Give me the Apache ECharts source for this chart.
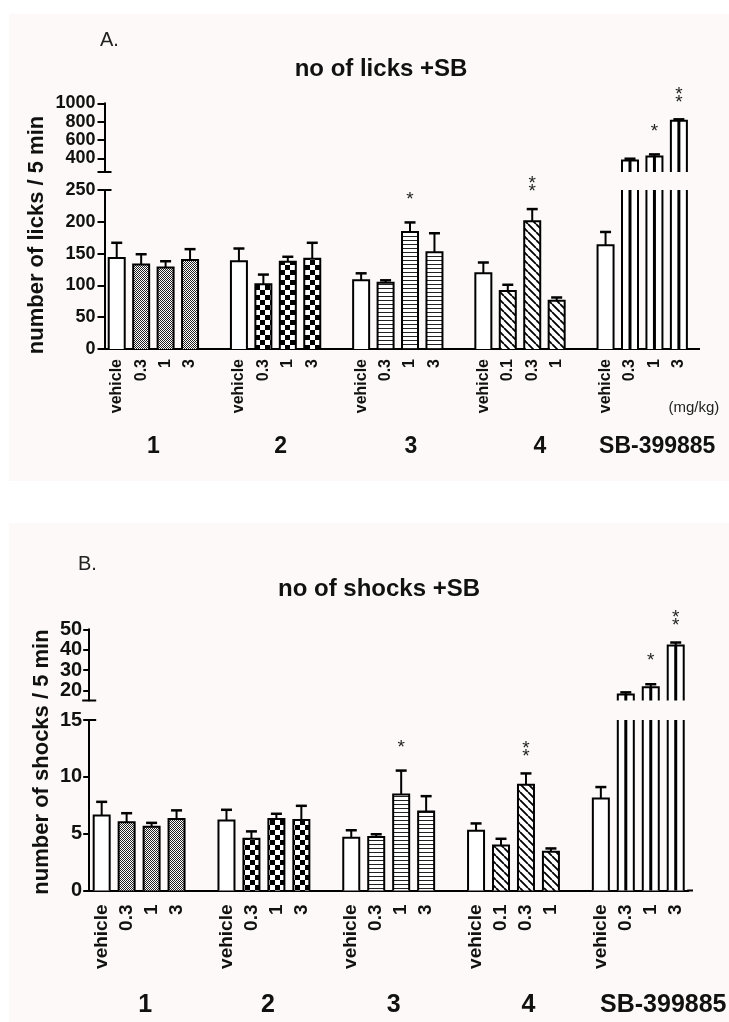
<!DOCTYPE html>
<html><head><meta charset="utf-8">
<script src="https://cdn.jsdelivr.net/npm/echarts@6/dist/echarts.min.js"></script>
<style>html,body{margin:0;padding:0;background:#fff;}#c{width:729px;height:1022px;}</style>
</head><body><div id="c"></div>
<script>
// ---------------- DATA ----------------
const categories = ['vehicle','0.3','1','3','',
                    'vehicle','0.3','1','3','',
                    'vehicle','0.3','1','3','',
                    'vehicle','0.1','0.3','1','',
                    'vehicle','0.3','1','3'];
const groupNames = ['1','2','3','4','SB-399885'];

const licksMean = [143,133,128,140,null, 138,102,137,142,null, 108,104,184,152,null, 119,91,201,76,null, 163,375,420,810];
const licksErr  = [24,16,10,17,null, 20,15,8,25,null, 11,4,15,30,null, 17,10,19,5,null, 21,20,22,15];
const licksSig  = [null,null,null,null,null, null,null,null,null,null, null,null,'*',null,null, null,null,'**',null,null, null,null,'*','**'];

const shocksMean = [6.6,6.0,5.6,6.3,null, 6.15,4.55,6.3,6.2,null, 4.65,4.7,8.45,6.95,null, 5.25,3.95,9.3,3.4,null, 8.1,18,21.5,42];
const shocksErr  = [1.2,0.8,0.35,0.75,null, 0.95,0.65,0.45,1.25,null, 0.65,0.25,2.1,1.35,null, 0.65,0.6,1.0,0.3,null, 1.0,1.0,1.5,1.5];
const shocksSig  = [null,null,null,null,null, null,null,null,null,null, null,null,'*',null,null, null,null,'**',null,null, null,null,'*','**'];

const licksLowerTicks = [0,50,100,150,200,250];
const licksUpperTicks = [400,600,800,1000];
const shocksLowerTicks = [0,5,10,15];
const shocksUpperTicks = [20,30,40,50];

// ---------------- STYLE / LAYOUT ----------------
const FONT = "'Liberation Sans', Arial, sans-serif";
const INK = '#111';
const patternByGroup = ['fine','checker','hlines','diag','vline'];

function tile(w,h,draw){
  const c=document.createElement('canvas');c.width=w;c.height=h;
  const g=c.getContext('2d');g.fillStyle='#fff';g.fillRect(0,0,w,h);
  g.fillStyle='#000';g.strokeStyle='#000';draw(g);return {image:c,repeat:'repeat'};
}
const patterns = {
  fine: tile(2,2,g=>{g.fillStyle='#222';g.fillRect(0,0,1,1);g.fillRect(1,1,1,1);}),
  checker: tile(10,10,g=>{g.fillRect(0,0,5,5);g.fillRect(5,5,5,5);}),
  hlines: tile(4,4,g=>{g.fillStyle='#222';g.fillRect(0,0,4,1);}),
  diag: tile(8,8,g=>{g.lineWidth=1.8;g.beginPath();for(const k of [-1,0,1]){g.moveTo(k*8,0);g.lineTo(k*8+8,8);}g.stroke();})
};

const panels = [
  {mean:licksMean, err:licksErr, sig:licksSig, lowerTicks:licksLowerTicks, upperTicks:licksUpperTicks,
   lowerMax:250, lowerInterval:50, upperMin:250, upperMax:1000,
   left:104.5, width:586.6, upperTop:103.3, upperBottom:172, lowerTop:190, lowerBottom:349,
   yFont:18, xFont:16, xMargin:10, yMargin:9, tickLen:7,
   title:'no of licks +SB', titleX:381, titleY:69, letter:'A.', letterX:100, letterY:40,
   yName:'number of licks / 5 min', yNameX:37, yNameY:235, groupY:447, groupFont:23,
   groupDx:[0,5,13,20,15], unit:'(mg/kg)', axisEnd:700, bg:[9,14,720,467]},
  {mean:shocksMean, err:shocksErr, sig:shocksSig, lowerTicks:shocksLowerTicks, upperTicks:shocksUpperTicks,
   lowerMax:15, lowerInterval:5, upperMin:15, upperMax:50,
   left:89.2, width:599, upperTop:629.3, upperBottom:700.5, lowerTop:720, lowerBottom:890.5,
   yFont:20, xFont:19, xMargin:14, yMargin:7, tickLen:6,
   title:'no of shocks +SB', titleX:379, titleY:589, letter:'B.', letterX:78, letterY:564,
   yName:'number of shocks / 5 min', yNameX:42, yNameY:762, groupY:1005, groupFont:25,
   groupDx:[6,4,5,15,25], unit:null, axisEnd:693, bg:[9,523,720,499]}
];

function makeRender(p, seg){
  return function(params, api){
    const cat = api.value(0), v = api.value(1), e = api.value(2);
    const cs = params.coordSys;
    const top = cs.y, bot = cs.y + cs.height;
    const pt = api.coord([cat, v]);
    const cx = pt[0], half = 8;
    const x0 = cx-half, x1 = cx+half;
    const clipped = pt[1] < top - 0.5;
    const yt = clipped ? top : pt[1];
    const g = Math.floor(cat/5), k = cat % 5;
    const pat = k === 0 ? null : patternByGroup[g];
    const ch = [];
    ch.push({type:'rect', shape:{x:x0,y:yt,width:x1-x0,height:bot-yt},
      style:{fill: (pat && pat !== 'vline') ? patterns[pat] : '#fff'}});
    if (pat === 'vline') ch.push({type:'line', shape:{x1:cx,y1:yt,x2:cx,y2:bot}, style:{stroke:'#000',lineWidth:3}});
    if (clipped){
      ch.push({type:'line', shape:{x1:x0,y1:yt,x2:x0,y2:bot}, style:{stroke:'#000',lineWidth:2}});
      ch.push({type:'line', shape:{x1:x1,y1:yt,x2:x1,y2:bot}, style:{stroke:'#000',lineWidth:2}});
    } else {
      ch.push({type:'polyline', shape:{points:[[x0,bot],[x0,yt],[x1,yt],[x1,bot]]}, style:{stroke:'#000',lineWidth:2,fill:null}});
      const yE = api.coord([cat, v + e])[1];
      ch.push({type:'line', shape:{x1:cx,y1:yt,x2:cx,y2:yE}, style:{stroke:'#000',lineWidth:2}});
      ch.push({type:'line', shape:{x1:cx-5.5,y1:yE,x2:cx+5.5,y2:yE}, style:{stroke:'#000',lineWidth:2.5}});
      const s = p.sig[cat];
      if (s){
        const n = s.length;
        const base = n === 1 ? 23 : 17;
        for (let i=0;i<n;i++){
          ch.push({type:'text', x:cx, y:yE - base - i*8,
            style:{text:'*', fontSize:19, fontFamily:FONT, fill:'#222', align:'center', verticalAlign:'middle'}});
        }
      }
    }
    return {type:'group', children:ch};
  };
}

const grid=[], xAxis=[], yAxis=[], series=[];
panels.forEach((p, pi) => {
  const gU = grid.length;
  grid.push({left:p.left, top:p.upperTop, width:p.width, height:p.upperBottom-p.upperTop});
  grid.push({left:p.left, top:p.lowerTop, width:p.width, height:p.lowerBottom-p.lowerTop});
  const gL = gU + 1;
  xAxis.push({type:'category', gridIndex:gU, data:categories, show:false});
  xAxis.push({type:'category', gridIndex:gL, data:categories,
    axisLine:{lineStyle:{color:'#000',width:2}},
    axisTick:{alignWithLabel:true, interval:0, length:p.tickLen+1, lineStyle:{color:'#000',width:2}},
    axisLabel:{interval:0, rotate:90, fontSize:p.xFont, fontWeight:'bold', fontFamily:FONT, color:INK, margin:p.xMargin},
    splitLine:{show:false}});
  yAxis.push({type:'value', gridIndex:gU, min:p.upperMin, max:p.upperMax,
    axisLine:{show:true, lineStyle:{color:'#000',width:2}},
    axisTick:{show:true, length:p.tickLen, lineStyle:{color:'#000',width:2}, customValues:p.upperTicks},
    axisLabel:{fontSize:p.yFont, fontWeight:'bold', fontFamily:FONT, color:INK, margin:p.yMargin, customValues:p.upperTicks,
      formatter:v=>String(v)},
    splitLine:{show:false}});
  yAxis.push({type:'value', gridIndex:gL, min:0, max:p.lowerMax, interval:p.lowerInterval,
    axisLine:{show:true, lineStyle:{color:'#000',width:2}},
    axisTick:{show:true, length:p.tickLen, lineStyle:{color:'#000',width:2}},
    axisLabel:{fontSize:p.yFont, fontWeight:'bold', fontFamily:FONT, color:INK, margin:p.yMargin, formatter:v=>String(v)},
    splitLine:{show:false}});
  const lowerData=[], upperData=[];
  p.mean.forEach((m,i)=>{
    if (m == null) return;
    lowerData.push([i, m, p.err[i]]);
    if (m > p.lowerMax) upperData.push([i, m, p.err[i]]);
  });
  series.push({type:'custom', coordinateSystem:'cartesian2d', xAxisIndex:gU, yAxisIndex:gU,
    data:upperData, renderItem:makeRender(p,'upper'), clip:false, animation:false, z:5});
  series.push({type:'custom', coordinateSystem:'cartesian2d', xAxisIndex:gL, yAxisIndex:gL,
    data:lowerData, renderItem:makeRender(p,'lower'), clip:false, animation:false, z:5});
});

const chart = echarts.init(document.getElementById('c'), null, {renderer:'canvas'});
chart.setOption({backgroundColor:'#fff', animation:false, grid, xAxis, yAxis, series});

// annotations positioned through the axes
const gfx = [];
panels.forEach((p, pi) => {
  const gU = pi*2, gL = pi*2+1;
  gfx.push({type:'rect', z:-100, shape:{x:p.bg[0],y:p.bg[1],width:p.bg[2],height:p.bg[3]}, style:{fill:'#fcf9f8'}, silent:true});
  gfx.push({type:'text', x:p.letterX, y:p.letterY, style:{text:p.letter, fontSize:20, fontFamily:FONT, fill:'#222', verticalAlign:'middle'}});
  gfx.push({type:'text', x:p.titleX, y:p.titleY, style:{text:p.title, fontSize:24, fontWeight:'bold', fontFamily:FONT, fill:INK, align:'center', verticalAlign:'middle'}});
  gfx.push({type:'text', x:p.yNameX, y:p.yNameY, rotation:Math.PI/2, style:{text:p.yName, fontSize:22, fontWeight:'bold', fontFamily:FONT, fill:INK, align:'center', verticalAlign:'middle'}});
  const axX = chart.convertToPixel({xAxisIndex:gL}, 0) - (p.width/24)/2;
  const yUB = chart.convertToPixel({yAxisIndex:gU}, p.upperMin);
  const yLT = chart.convertToPixel({yAxisIndex:gL}, p.lowerMax);
  const yL0 = chart.convertToPixel({yAxisIndex:gL}, 0);
  gfx.push({type:'line', shape:{x1:axX-7,y1:yUB,x2:axX+7,y2:yUB}, style:{stroke:'#000',lineWidth:2}});
  gfx.push({type:'line', shape:{x1:axX,y1:yLT,x2:axX+7,y2:yLT}, style:{stroke:'#000',lineWidth:2}});
  gfx.push({type:'line', shape:{x1:p.left+p.width-1,y1:yL0,x2:p.axisEnd,y2:yL0}, style:{stroke:'#000',lineWidth:2}});
  groupNames.forEach((name, gi) => {
    const c0 = chart.convertToPixel({xAxisIndex:gL}, gi*5);
    const c3 = chart.convertToPixel({xAxisIndex:gL}, gi*5+3);
    gfx.push({type:'text', x:(c0+c3)/2 + p.groupDx[gi], y:p.groupY,
      style:{text:name, fontSize:p.groupFont, fontWeight:'bold', fontFamily:FONT, fill:INK, align:'center', verticalAlign:'middle'}});
  });
  if (p.unit){
    const cLast = chart.convertToPixel({xAxisIndex:gL}, 23);
    gfx.push({type:'text', x:cLast+15, y:408, style:{text:p.unit, fontSize:15, fontFamily:FONT, fill:'#222', align:'center', verticalAlign:'middle'}});
  }
});
chart.setOption({graphic:{elements:gfx}});
</script></body></html>
